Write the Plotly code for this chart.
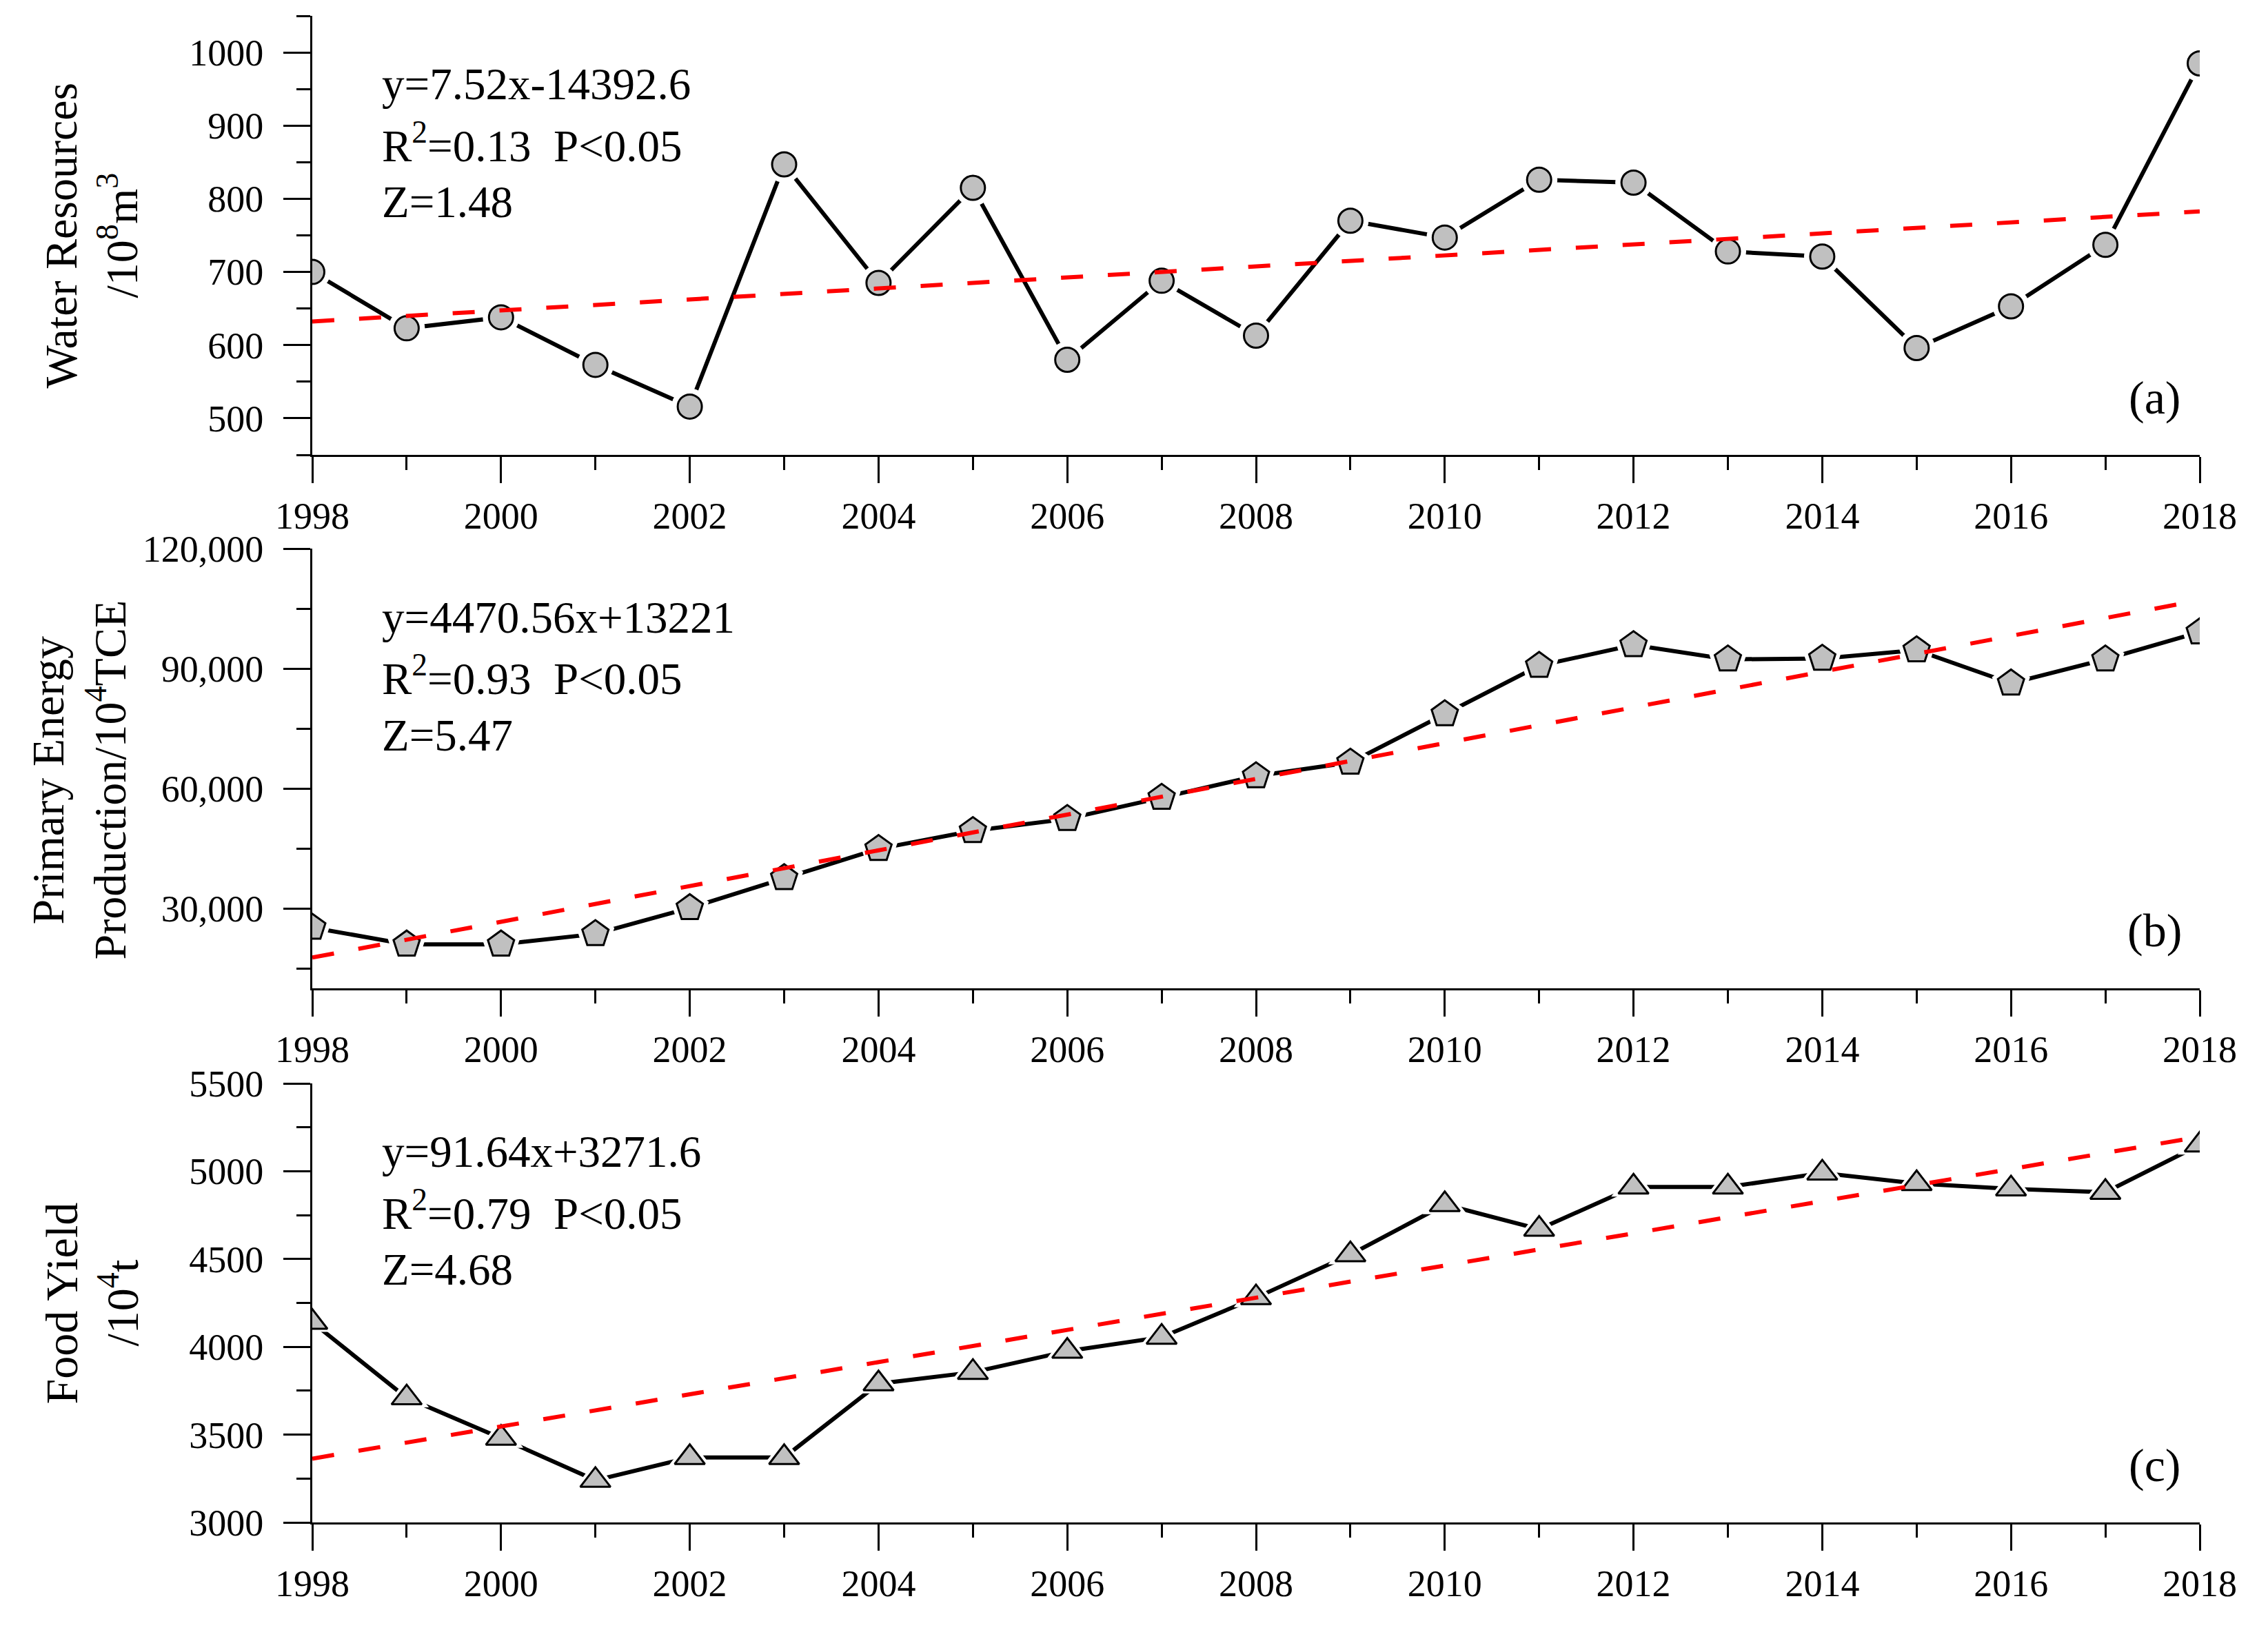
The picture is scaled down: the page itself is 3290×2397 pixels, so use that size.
import plotly.graph_objects as go

# ---------------- data ----------------
years = list(range(1998, 2019))
x_ticks = list(range(1998, 2019, 2))

water = [700, 623, 638, 573, 516, 847, 685, 815, 580, 688, 613,
         770, 747, 826, 822, 728, 721, 596, 653, 737, 985]
energy = [25200, 21000, 21000, 23600, 30100, 37600, 44900, 49400, 52400, 57700, 63100,
          66500, 78600, 90700, 95900, 92300, 92500, 94600, 86300, 92300, 99100]
food = [4140, 3710, 3480, 3240, 3370, 3370, 3790, 3855, 3975, 4055, 4280,
        4525, 4810, 4670, 4910, 4910, 4990, 4930, 4900, 4880, 5150]

# printed regression equations (a uses the year, b and c use the index 1..21)
slope_a, icpt_a = 7.52, -14392.6
slope_b, icpt_b = 4470.56, 13221
slope_c, icpt_c = 91.64, 3271.6
trend_x = [1998, 2018]
trend_a = [slope_a * x + icpt_a for x in trend_x]
trend_b = [slope_b * i + icpt_b for i in (1, 21)]
trend_c = [slope_c * i + icpt_c for i in (1, 21)]

eq_text = [
    ["y=7.52x-14392.6", "R<sup>2</sup>=0.13\u00a0\u00a0P&lt;0.05", "Z=1.48"],
    ["y=4470.56x+13221", "R<sup>2</sup>=0.93\u00a0\u00a0P&lt;0.05", "Z=5.47"],
    ["y=91.64x+3271.6", "R<sup>2</sup>=0.79\u00a0\u00a0P&lt;0.05", "Z=4.68"],
]
panel_labels = ["(a)", "(b)", "(c)"]
y_titles = [
    ["Water Resources", "/10<sup>8</sup>m<sup>3</sup>"],
    ["Primary Energy", "Production/10<sup>4</sup>TCE"],
    ["Food Yield", "/10<sup>4</sup>t"],
]

# ---------------- layout geometry ----------------
W, H = 3290, 2397
FONT = "Liberation Serif"
x_dom = [453 / W, 3191 / W]
# pixel top/bottom of each plot area
panels_px = [(23, 660), (796, 1434), (1572, 2209)]
y_doms = [[1 - b / H, 1 - t / H] for t, b in panels_px]

series = [water, energy, food]
trends = [trend_a, trend_b, trend_c]
symbols = ["circle", "pentagon", "triangle-up"]
msizes = [35, 40, 38]
y_ranges = [[450, 1050], [10000, 120000], [3000, 5500]]
y_dticks = [100, 30000, 500]
y_minor = [50, 15000, 250]
y_fmt = ["d", ",d", "d"]

fig = go.Figure()

for i in range(3):
    xa = "x" if i == 0 else f"x{i+1}"
    ya = "y" if i == 0 else f"y{i+1}"
    # black connecting line
    fig.add_trace(go.Scatter(x=years, y=series[i], xaxis=xa, yaxis=ya, mode="lines",
                             line=dict(color="black", width=6), showlegend=False,
                             hoverinfo="skip"))
    # white halo to create gaps in the line around the symbols
    fig.add_trace(go.Scatter(x=years, y=series[i], xaxis=xa, yaxis=ya, mode="markers",
                             marker=dict(symbol=symbols[i], size=msizes[i] + 18, color="white",
                                         line=dict(width=0)),
                             showlegend=False, hoverinfo="skip"))
    # grey symbols
    fig.add_trace(go.Scatter(x=years, y=series[i], xaxis=xa, yaxis=ya, mode="markers",
                             marker=dict(symbol=symbols[i], size=msizes[i], color="#c0c0c0",
                                         line=dict(color="black", width=3)),
                             showlegend=False))
    # red dashed trend
    fig.add_trace(go.Scatter(x=trend_x, y=trends[i], xaxis=xa, yaxis=ya, mode="lines",
                             line=dict(color="#ff0000", width=6, dash="32px,36px"),
                             showlegend=False, hoverinfo="skip"))

axis_common = dict(showgrid=False, zeroline=False, showline=True, linecolor="black",
                   linewidth=3, ticks="outside", tickcolor="black", tickwidth=3,
                   automargin=False, mirror=False,
                   tickfont=dict(family=FONT, size=54, color="black"))

for i in range(3):
    xkey = "xaxis" if i == 0 else f"xaxis{i+1}"
    ykey = "yaxis" if i == 0 else f"yaxis{i+1}"
    yanchor = "y" if i == 0 else f"y{i+1}"
    xanchor = "x" if i == 0 else f"x{i+1}"
    fig.layout[xkey] = dict(axis_common, domain=x_dom, anchor=yanchor, range=[1998, 2018],
                            tickmode="array", tickvals=x_ticks, ticktext=[str(v) for v in x_ticks],
                            ticklen=38, ticklabelstandoff=1,
                            minor=dict(dtick=1, tick0=1998, ticklen=19, tickwidth=3,
                                       ticks="outside", tickcolor="black", showgrid=False))
    fig.layout[ykey] = dict(axis_common, domain=y_doms[i], anchor=xanchor, range=y_ranges[i],
                            dtick=y_dticks[i], tick0=0, tickformat=y_fmt[i],
                            ticklen=39, ticklabelstandoff=18,
                            minor=dict(dtick=y_minor[i], tick0=0, ticklen=20, tickwidth=3,
                                       ticks="outside", tickcolor="black", showgrid=False))

annotations = []
eq_ypos = [0.844, 0.711, 0.576]
# right edge (bottom of the rotated text) of each title line, in pixels
title_right_px = [[127, 216], [107, 198], [127, 216]]
title_y = [1 - 342 / H, 1 - 1132 / H, 1 - 1891 / H]
for i in range(3):
    xd = "x domain" if i == 0 else f"x{i+1} domain"
    yd = "y domain" if i == 0 else f"y{i+1} domain"
    for k in range(3):
        annotations.append(dict(text=eq_text[i][k], xref=xd, yref=yd, x=0.0362, y=eq_ypos[k],
                                xanchor="left", yanchor="middle", showarrow=False,
                                font=dict(family=FONT, size=65, color="black")))
    annotations.append(dict(text=panel_labels[i], xref=xd, yref=yd, x=0.976, y=0.131,
                            xanchor="center", yanchor="middle", showarrow=False,
                            font=dict(family=FONT, size=68, color="black")))
    for k in range(2):
        annotations.append(dict(text=y_titles[i][k], xref="paper", yref="paper",
                                x=title_right_px[i][k] / W, y=title_y[i], textangle=-90,
                                xanchor="right", yanchor="middle", showarrow=False,
                                font=dict(family=FONT, size=66, color="black")))

fig.update_layout(width=W, height=H, margin=dict(l=0, r=0, t=0, b=0),
                  plot_bgcolor="white", paper_bgcolor="white",
                  annotations=annotations, showlegend=False)

fig.write_html("out.html", config={"displayModeBar": False},
               post_script="document.body.style.margin='0px';")
